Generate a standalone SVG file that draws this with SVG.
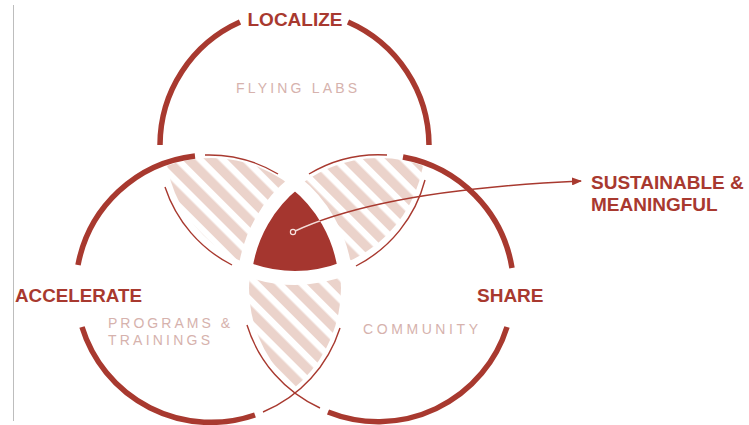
<svg xmlns="http://www.w3.org/2000/svg" width="749" height="425" viewBox="0 0 749 425">
  <defs>
    <style>
      .thick{fill:none;stroke:#a8392f;stroke-width:5.5}
      .thin{fill:none;stroke:#a8392f;stroke-width:1.4}
      .title{font-family:"Liberation Sans",Arial,sans-serif;font-weight:700;font-size:19px;fill:#a8392f}
      .sub{font-family:"Liberation Sans",Arial,sans-serif;font-size:14px;fill:#d6b2ad}
      .hatch{fill:url(#hatch)}
    </style>
    <pattern id="hatch" patternUnits="userSpaceOnUse" width="16" height="16" patternTransform="rotate(-45)">
      <rect width="9.5" height="16" fill="#ebd3cb"/>
    </pattern>
    <!-- circles shrunk a little so the hatching keeps clear of the outlines -->
    <clipPath id="inT"><circle cx="295" cy="143" r="130"/></clipPath>
    <clipPath id="inL"><circle cx="211" cy="288" r="130"/></clipPath>
    <clipPath id="inR"><circle cx="379" cy="288" r="130"/></clipPath>
    <!-- shared centre where all three circles overlap -->
    <path id="core" d="M295,182.3 A135,135 0 0 0 245.4,268.6 A135,135 0 0 0 344.6,268.6 A135,135 0 0 0 295,182.3 Z"/>
    <mask id="coreMask" maskUnits="userSpaceOnUse" x="0" y="0" width="749" height="425">
      <use href="#core" fill="#fff" stroke="#000" stroke-width="14"/>
    </mask>
    <marker id="arrow" viewBox="0 0 10 8" refX="9" refY="4" markerWidth="10" markerHeight="8" markerUnits="userSpaceOnUse" orient="auto">
      <path d="M0,0 L10,4 L0,8 Z" fill="#a8392f"/>
    </marker>
  </defs>

  <rect width="749" height="425" fill="#fff"/>
  <line x1="13.5" y1="5" x2="13.5" y2="421" stroke="#bdbdbd" stroke-width="1"/>

  <!-- pairwise overlaps -->
  <g id="overlaps">
    <g clip-path="url(#inT)"><rect class="hatch" x="140" y="140" width="310" height="150" clip-path="url(#inL)"/></g>
    <g clip-path="url(#inT)"><rect class="hatch" x="140" y="140" width="310" height="150" clip-path="url(#inR)"/></g>
    <g clip-path="url(#inL)"><rect class="hatch" x="230" y="180" width="130" height="240" clip-path="url(#inR)"/></g>
  </g>

  <g id="node-core">
    <use href="#core" fill="#a5362f" stroke="#fff" stroke-width="14"/>
  </g>

  <g id="node-localize">
    <path class="thick" d="M160,145 A135,135 0 0 1 240,22"/>
    <path class="thick" d="M348,22 A135,135 0 0 1 429,145"/>
    <path class="thin" d="M165,187 A135,135 0 0 0 232,265"/>
    <path class="thin" d="M425,180 A135,135 0 0 1 356,266"/>
    <text class="title" x="295" y="26" text-anchor="middle">LOCALIZE</text>
    <text class="sub" x="236" y="93" textLength="121" lengthAdjust="spacing">FLYING LABS</text>
  </g>

  <g id="node-accelerate">
    <path class="thick" d="M195,156 A135,135 0 0 0 78,265"/>
    <path class="thick" d="M82,327 A135,135 0 0 0 255,415"/>
    <path class="thin" d="M205,155 A135,135 0 0 1 278,174"/>
    <path class="thin" d="M263,412 A135,135 0 0 0 340,328"/>
    <text class="title" x="15" y="302" textLength="127" lengthAdjust="spacingAndGlyphs">ACCELERATE</text>
    <text class="sub" x="108" y="328" textLength="122" lengthAdjust="spacing">PROGRAMS &amp;</text>
    <text class="sub" x="108" y="345" textLength="102" lengthAdjust="spacing">TRAININGS</text>
  </g>

  <g id="node-share">
    <path class="thick" d="M403,157 A135,135 0 0 1 512,268"/>
    <path class="thick" d="M507,327 A135,135 0 0 1 328,412"/>
    <path class="thin" d="M387,155 A135,135 0 0 0 309,174"/>
    <path class="thin" d="M320,408 A135,135 0 0 1 247,325"/>
    <text class="title" x="477" y="302">SHARE</text>
    <text class="sub" x="363" y="334" textLength="115" lengthAdjust="spacing">COMMUNITY</text>
  </g>

  <g id="connectors">
    <path d="M293,232 Q382,190 581,181" fill="none" stroke="#a8392f" stroke-width="1.4" marker-end="url(#arrow)"/>
    <path d="M293,232 Q382,190 581,181" fill="none" stroke="#f3dcd8" stroke-width="1.4" mask="url(#coreMask)"/>
    <circle cx="293" cy="232" r="2.6" fill="#a5362f" stroke="#f6e3e0" stroke-width="1.2"/>
  </g>

  <g id="node-outcome">
    <text class="title" x="591" y="189">SUSTAINABLE &amp;</text>
    <text class="title" x="591" y="211">MEANINGFUL</text>
  </g>
</svg>
